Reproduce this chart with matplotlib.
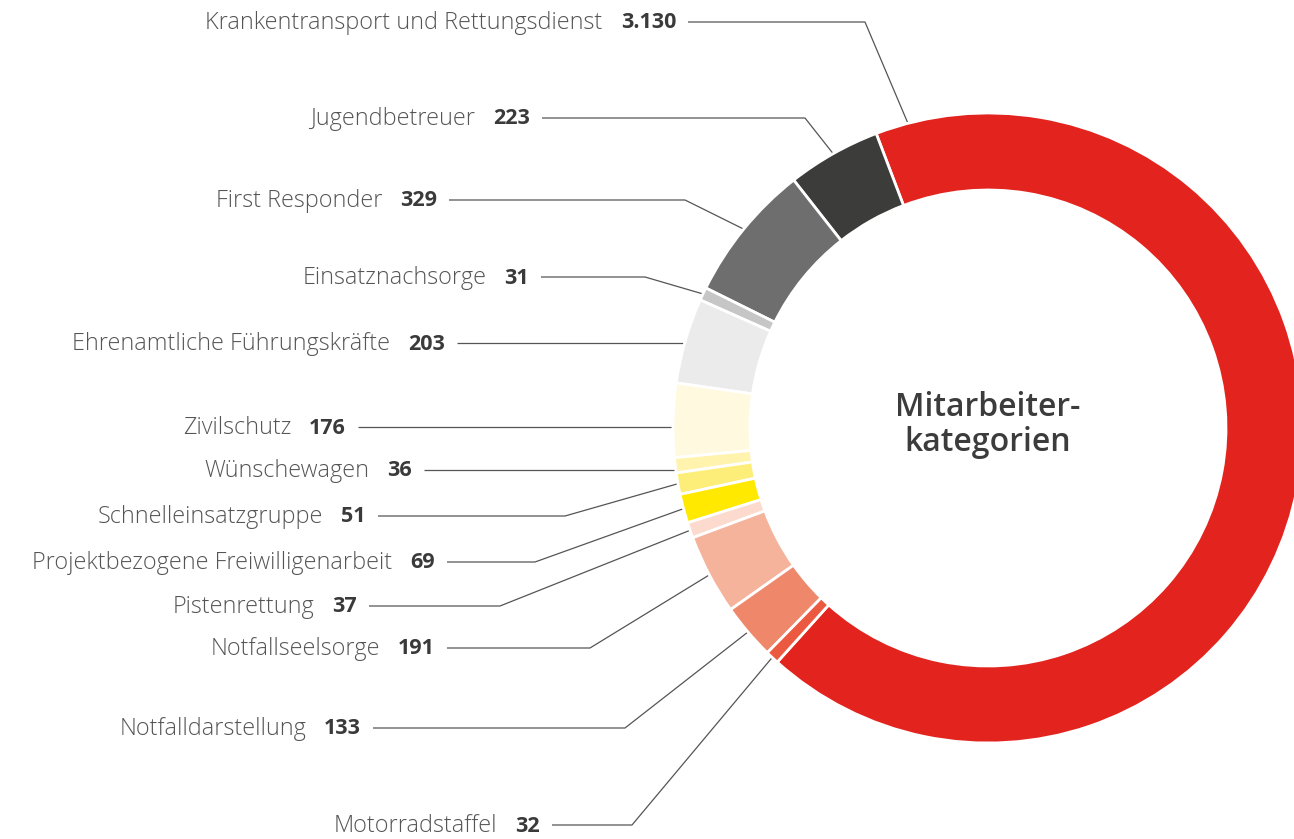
import matplotlib.pyplot as plt
import numpy as np

# data
categories = [
    "Krankentransport und Rettungsdienst",
    "Jugendbetreuer",
    "First Responder",
    "Einsatznachsorge",
    "Ehrenamtliche Führungskräfte",
    "Zivilschutz",
    "Wünschewagen",
    "Schnelleinsatzgruppe",
    "Projektbezogene Freiwilligenarbeit",
    "Pistenrettung",
    "Notfallseelsorge",
    "Notfalldarstellung",
    "Motorradstaffel",
]
values = [3130, 223, 329, 31, 203, 176, 36, 51, 69, 37, 191, 133, 32]
value_labels = ["3.130", "223", "329", "31", "203", "176", "36", "51", "69", "37", "191", "133", "32"]
colors = ["#e3241e", "#3c3c3b", "#6e6e6e", "#c6c6c6", "#ebebeb", "#fffadf",
          "#fff3ae", "#fdee7a", "#ffe900", "#fcdacd", "#f5b39c", "#ef876b", "#eb5a40"]

# label layout (pixel coords, y from top)
label_y = [22, 118, 200, 277, 343, 427, 470, 516, 562, 606, 648, 728, 825]
value_right = [676, 530, 437, 529, 445, 346, 412, 366, 435, 357, 435, 361, 540]
elbow_x = [865, 805, 685, 645, None, None, None, 565, 535, 500, 590, 625, 632]
anchor_pos = [0.025] + [0.5] * 12

W, H = 1294, 839
cx, cy = 988, 428
R, ring = 315, 77

plt.rcParams['font.family'] = ['Open Sans', 'DejaVu Sans']

fig = plt.figure(figsize=(W / 100, H / 100), dpi=100)
ax = fig.add_axes([0, 0, 1, 1])

wedges, _ = ax.pie(values, colors=colors, center=(cx, cy), radius=R,
                   startangle=-228, counterclock=False,
                   wedgeprops=dict(width=ring, edgecolor='white', linewidth=2))

ax.set_xlim(0, W)
ax.set_ylim(H, 0)
ax.set_aspect('equal')
ax.axis('off')

ax.text(cx, cy - 3, "Mitarbeiter-\nkategorien", ha='center', va='center',
        fontsize=23, fontweight='semibold', color='#3c3c3c', linespacing=1.1)

renderer = fig.canvas.get_renderer()

for i, w in enumerate(wedges):
    y = label_y[i]
    vx = value_right[i]
    vt = ax.text(vx, y + 1, value_labels[i], ha='right', va='center',
                 fontsize=15.5, fontweight='bold', color='#3a3a3a')
    vw = vt.get_window_extent(renderer).width
    ax.text(vx - vw - 18, y + 1, categories[i], ha='right', va='center',
            fontsize=16.8, fontweight='light', color='#555555')

    x0 = vx + 12
    if elbow_x[i] is None:
        ex = cx - np.sqrt(R ** 2 - (y - cy) ** 2)
        xs, ys = [x0, ex], [y, y]
    else:
        ang = np.deg2rad(w.theta1 + anchor_pos[i] * (w.theta2 - w.theta1))
        px = cx + R * np.cos(ang)
        py = cy + R * np.sin(ang)
        xs, ys = [x0, elbow_x[i], px], [y, y, py]
    ax.plot(xs, ys, color='#555555', lw=0.9, solid_capstyle='butt', zorder=0)

fig.savefig("out.png", dpi=100)
